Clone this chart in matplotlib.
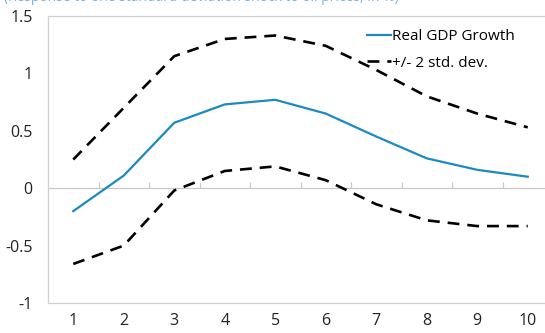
import matplotlib
matplotlib.use("Agg")
import matplotlib.pyplot as plt

periods = [1, 2, 3, 4, 5, 6, 7, 8, 9, 10]
gdp = [-0.20, 0.11, 0.57, 0.73, 0.77, 0.65, 0.45, 0.26, 0.16, 0.10]
upper = [0.25, 0.70, 1.15, 1.30, 1.33, 1.24, 1.03, 0.80, 0.65, 0.53]
lower = [-0.66, -0.50, -0.02, 0.15, 0.19, 0.07, -0.14, -0.28, -0.33, -0.33]
yticks = [-1, -0.5, 0, 0.5, 1, 1.5]
ytick_labels = ["-1", "-0.5", "0", "0.5", "1", "1.5"]

plt.rcParams['font.family'] = ['Open Sans', 'DejaVu Sans']

fig = plt.figure(figsize=(5.45, 3.33), dpi=100)
ax = fig.add_axes([48/545, 30/333, 505/545, 287/333])

blue = '#1B8AC0'
ax.plot(periods, gdp, color=blue, lw=1.6, label='Real GDP Growth', zorder=3)
ax.plot(periods, upper, color='black', lw=1.9, ls=(0, (4.5, 3)), label='+/- 2 std. dev.', zorder=3)
ax.plot(periods, lower, color='black', lw=1.9, ls=(0, (4.5, 3)), zorder=3)

ax.set_xlim(0.5, 10.5)
ax.set_ylim(-1, 1.5)
ax.set_xticks(periods)
ax.set_xticklabels([str(p) for p in periods])
ax.set_yticks(yticks)
ax.set_yticklabels(ytick_labels)
ax.tick_params(axis='both', length=0, labelsize=11.5, colors='#222222')
ax.tick_params(axis='y', pad=11)
ax.tick_params(axis='x', pad=7)

for s in ['left', 'top', 'bottom', 'right']:
    ax.spines[s].set_color('#d0d0d0')
    ax.spines[s].set_linewidth(0.9)

# zero axis with category boundary ticks
sec = ax.secondary_xaxis(0.4)
sec.set_xticks([p + 0.5 for p in periods[:-1]])
sec.set_xticklabels([])
sec.tick_params(direction='in', length=4.5, color='#c8c8c8', width=0.9)
sec.spines['bottom'].set_color('#c8c8c8')
sec.spines['bottom'].set_linewidth(0.9)

leg = ax.legend(loc='upper left', bbox_to_anchor=(0.62, 0.975), frameon=False,
                fontsize=11, handlelength=1.55, handletextpad=0.1, labelspacing=0.75,
                borderaxespad=0)

fig.text(0.008, 0.997, "(Response to one standard deviation shock to oil prices, in %)",
         color='#6fb6e6', fontsize=10, va='baseline', ha='left')

fig.savefig('out.png', dpi=100)
